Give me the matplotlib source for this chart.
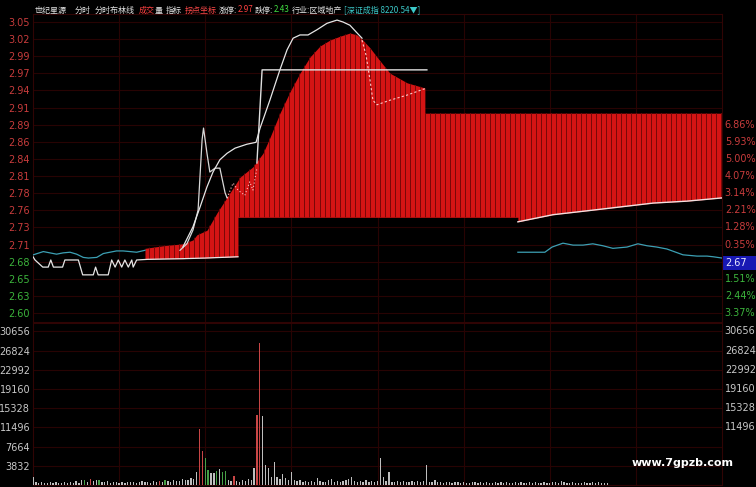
import numpy as np
import matplotlib
matplotlib.use("Agg")
import matplotlib.pyplot as plt
from matplotlib.patches import Rectangle

plt.rcParams['font.family'] = ['Noto Sans CJK SC', 'DejaVu Sans']

# ---------------- data ----------------
price_ticks = [3.05, 3.0235, 2.9971, 2.9706, 2.9441, 2.9176, 2.8912, 2.8647, 2.8382,
               2.8118, 2.7853, 2.7588, 2.7324, 2.7059, 2.6794, 2.6529, 2.6265, 2.60]
price_labels = ["3.05", "3.02", "2.99", "2.97", "2.94", "2.91", "2.89", "2.86", "2.84",
                "2.81", "2.78", "2.76", "2.73", "2.71", "2.68", "2.65", "2.63", "2.60"]
right_labels = ["6.86%", "5.93%", "5.00%", "4.07%", "3.14%", "2.21%", "1.28%", "0.35%",
                "2.67", "1.51%", "2.44%", "3.37%"]
vol_ticks = [30656, 26824, 22992, 19160, 15328, 11496, 7664, 3832]
vol_right_ticks = [30656, 26824, 22992, 19160, 15328, 11496]

# red area (minute, top price, bottom price)
red_x = [39.0, 45.3, 52.2, 55.7, 57.1, 60.6, 64.1, 67.6, 71.1, 71.4, 71.4, 72.1, 76.6, 80.1,
         82.5, 86.0, 89.5, 93.0, 96.5, 100.0, 103.4, 106.9, 110.4, 112.9, 114.9, 117.4,
         119.8, 124.3, 130.3, 136.5, 136.5, 168.9, 168.9, 181.1, 192.9, 204.5, 216.0, 227.8, 240.0]
red_top = [2.700, 2.704, 2.707, 2.713, 2.721, 2.728, 2.755, 2.779, 2.803, 2.805, 2.805, 2.810,
           2.826, 2.847, 2.871, 2.909, 2.942, 2.971, 2.996, 3.013, 3.022, 3.028, 3.033, 3.030,
           3.022, 3.010, 2.996, 2.971, 2.956, 2.948, 2.909, 2.909, 2.909, 2.909, 2.909, 2.909,
           2.909, 2.909, 2.909]
red_bot = ([2.683, 2.684, 2.684, 2.685, 2.685, 2.685, 2.686, 2.686, 2.687, 2.687]
           + [2.748] * 22
           + [2.741, 2.752, 2.758, 2.764, 2.770, 2.773, 2.778])

# left white price line
wl_x = [0, 0.7, 3.4, 5.3, 6.2, 7.1, 10.3, 11.1, 15.8, 17.3, 21.0, 21.8, 22.7, 26.2, 27.4, 28.6,
        29.7, 30.9, 32.0, 33.2, 34.4, 34.9, 36.1, 40.0, 52.0, 60.0, 71.4]
wl_p = [2.687, 2.682, 2.671, 2.671, 2.682, 2.671, 2.671, 2.682, 2.682, 2.659, 2.659, 2.671,
        2.659, 2.659, 2.682, 2.671, 2.682, 2.671, 2.682, 2.671, 2.682, 2.671, 2.682, 2.683,
        2.684, 2.685, 2.687]

# left cyan average line
cl_x = [0.1, 3.6, 5.9, 8.2, 10.5, 12.9, 15.2, 17.5, 19.3, 22.2, 24.5, 26.8, 29.1, 31.4, 33.8, 36.1, 39.0]
cl_p = [2.690, 2.695, 2.693, 2.691, 2.693, 2.694, 2.691, 2.686, 2.685, 2.686, 2.692, 2.694,
        2.696, 2.696, 2.695, 2.694, 2.697]

# right cyan line
cr_x = [168.9, 178.3, 180.8, 184.6, 188.1, 191.6, 195.0, 198.5, 202.0, 206.9, 210.7, 213.9,
        217.3, 220.8, 226.4, 231.3, 234.8, 236.9, 240.0]
cr_p = [2.694, 2.694, 2.702, 2.708, 2.705, 2.705, 2.707, 2.704, 2.700, 2.702, 2.707, 2.704,
        2.702, 2.699, 2.690, 2.688, 2.688, 2.687, 2.685]

# right white bottom line
wr_x = [168.9, 181.1, 192.9, 204.5, 216.0, 227.8, 240.0]
wr_p = [2.741, 2.752, 2.758, 2.764, 2.770, 2.773, 2.778]

# spiky white line
sp_x = [51.2, 53.6, 55.7, 57.5, 58.9, 59.4, 60.6, 61.6, 63.4, 65.1, 66.9, 67.6]
sp_p = [2.697, 2.707, 2.728, 2.759, 2.868, 2.886, 2.847, 2.818, 2.824, 2.824, 2.786, 2.778]

# smooth white arc
arc_x = [52.2, 55.7, 58.2, 60.6, 62.7, 65.1, 67.6, 70.4, 74.5, 77.7, 79.1, 82.5, 86.0, 88.5,
         90.6, 93.0, 95.8, 98.9, 102.4, 105.9, 108.0, 110.4, 112.9, 114.6]
arc_p = [2.702, 2.733, 2.764, 2.795, 2.818, 2.837, 2.847, 2.855, 2.861, 2.864, 2.886, 2.929,
         2.976, 3.007, 3.025, 3.030, 3.030, 3.038, 3.048, 3.053, 3.050, 3.045, 3.033, 3.025]

# step line
st_x = [78.0, 79.8, 137.2]
st_p = [2.832, 2.976, 2.976]

# pink dotted lines
pd1_x = [67.6, 69.7, 71.4, 73.8, 75.5, 76.6, 78.0]
pd1_p = [2.778, 2.801, 2.790, 2.782, 2.803, 2.790, 2.824]
pd2_x = [114.6, 116.0, 117.4, 118.4, 119.8, 124.3, 130.3, 137.2]
pd2_p = [3.022, 2.999, 2.960, 2.929, 2.922, 2.929, 2.937, 2.948]

# volume per minute
volume = [1650, 500, 400, 600, 350, 450, 500, 300, 550, 400,
          450, 600, 350, 500, 400, 700, 450, 900, 1000, 600,
          1100, 700, 900, 1000, 650, 500, 800, 450, 600, 500,
          400, 550, 450, 600, 500, 650, 400, 550, 700, 500,
          600, 450, 700, 550, 800, 600, 900, 700, 650, 1000,
          800, 700, 1100, 900, 1000, 1400, 1200, 2650, 11200, 6850,
          5400, 3000, 2300, 2450, 2860, 3130, 2650, 2860, 1000, 700,
          1860, 800, 600, 900, 700, 1200, 1000, 3330, 13970, 28280,
          13770, 4000, 3330, 1600, 4660, 1560, 1200, 2200, 1330, 900,
          2660, 1000, 800, 900, 600, 700, 500, 800, 600, 1330,
          700, 500, 600, 900, 1260, 600, 800, 500, 700, 900,
          1200, 1500, 700, 500, 800, 600, 900, 500, 700, 600,
          800, 5330, 1500, 700, 2660, 600, 500, 800, 600, 700,
          500, 600, 700, 500, 800, 600, 700, 4000, 600, 500,
          900, 600, 500, 400, 600, 500, 450, 600, 500, 400,
          500, 450, 400, 550, 500, 400, 600, 450, 500, 400,
          450, 500, 400, 600, 450, 500, 400, 450, 550, 400,
          500, 400, 450, 500, 400, 600, 450, 400, 500, 450,
          400, 500, 600, 450, 700, 500, 400, 450, 500, 400,
          450, 400, 500, 450, 400, 500, 450, 600, 400, 450,
          400]
vol_minutes = list(range(len(volume)))
red_bars = [58, 59, 70, 78, 79, 20, 44]
green_bars = [60, 61, 64, 66, 67, 18, 23, 46]

# ---------------- figure ----------------
W, H = 756, 487
fig = plt.figure(figsize=(W / 100, H / 100), dpi=100, facecolor='black')

def px_axes(x0, y0, x1, y1):
    return fig.add_axes([x0 / W, 1 - y1 / H, (x1 - x0) / W, (y1 - y0) / H])

ax = px_axes(33, 14, 722, 322)
axv = px_axes(33, 323, 722, 485)
GRID = '#280303'
for a in (ax, axv):
    a.set_facecolor('black')
    a.set_xlim(0, 240)
    for s in a.spines.values():
        s.set_color('#300404')
        s.set_linewidth(0.8)
    a.set_xticks([])
    a.tick_params(axis='y', length=0, pad=2, labelsize=7)
    for m in [30, 60, 90, 120, 150, 180, 210]:
        a.axvline(m, color=GRID, lw=0.8, zorder=0)

ax.set_ylim(2.5861, 3.0624)
axv.set_ylim(0, 32335)

tick_font = ['Liberation Sans Narrow', 'DejaVu Sans']
ax.set_yticks(price_ticks)
ax.set_yticklabels(price_labels, family=tick_font)
for lab, v in zip(ax.get_yticklabels(), price_ticks):
    lab.set_color('#c83c3c' if v > 2.69 else '#3cb43c')
for v in price_ticks:
    ax.axhline(v, color=GRID, lw=0.8, zorder=0)

ytr = ax.get_yaxis_transform()
for v, t in zip(price_ticks[6:], right_labels):
    if t == "2.67":
        ax.add_patch(Rectangle((1.0, 2.6665), 34 / 689, 0.0216, transform=ytr,
                               clip_on=False, facecolor='#1818b4', edgecolor='none'))
        ax.text(1.004, 2.6773, t, transform=ytr, color='#e8e8ff', fontsize=7,
                family=tick_font, va='center', ha='left')
    else:
        col = '#c83c3c' if v > 2.69 else '#3cb43c'
        ax.text(1.004, v, t, transform=ytr, color=col, fontsize=7,
                family=tick_font, va='center', ha='left')

axv.set_yticks(vol_ticks)
axv.set_yticklabels([str(v) for v in vol_ticks], family=tick_font, color='#c8c8c8')
for v in vol_ticks:
    axv.axhline(v, color=GRID, lw=0.8, zorder=0)
vtr = axv.get_yaxis_transform()
for v in vol_right_ticks:
    axv.text(1.004, v, str(v), transform=vtr, color='#c8c8c8', fontsize=7,
             family=tick_font, va='center', ha='left')

# red area with bar separators
poly = ax.fill_between(red_x, red_bot, red_top, color='#d41414', lw=0, zorder=2)
seps = ax.vlines(np.arange(40.3, 240, 1.75), 2.58, 3.07, color='#780808', lw=0.7, zorder=3)
seps.set_clip_path(poly.get_paths()[0], poly.get_transform())

# lines
ax.plot(cl_x, cl_p, color='#3ca0b4', lw=0.9, zorder=4)
ax.plot(cr_x, cr_p, color='#3ca0b4', lw=0.9, zorder=4)
ax.plot(wl_x, wl_p, color='#e6e6e6', lw=0.9, zorder=5)
ax.plot(wr_x, wr_p, color='#f0e0e0', lw=1.0, zorder=5)
ax.plot(sp_x, sp_p, color='#d8d8d8', lw=0.9, zorder=5)
ax.plot(arc_x, arc_p, color='#e6e6e6', lw=0.9, zorder=5)
ax.plot(st_x, st_p, color='#e0e0e0', lw=1.0, zorder=5)
ax.plot(pd1_x, pd1_p, color='#ffc0c0', lw=0.8, ls=(0, (1, 2)), zorder=5)
ax.plot(pd2_x, pd2_p, color='#ffc8c8', lw=0.8, ls=(0, (2, 2)), zorder=5)

# volume bars
cols = []
for m in vol_minutes:
    if m in red_bars:
        cols.append('#c84646')
    elif m in green_bars:
        cols.append('#46a046')
    else:
        cols.append('#bebebe')
axv.bar(vol_minutes, volume, width=0.45, color=cols, lw=0, zorder=3)

# header
fig.canvas.draw()
renderer = fig.canvas.get_renderer()
WH = '#e4e4e4'
pieces = [("世纪星源", WH, 8), ("分时", WH, 4), ("分时布林线", WH, 4), ("成交", '#ff4040', 0),
          ("量", WH, 3), ("指标", WH, 3), ("拐点坐标", '#ff4848', 2), ("涨停:", WH, 0),
          ("2.97", '#ff4040', 2), ("跌停:", WH, 0), ("2.43", '#40dc40', 2),
          ("行业:区域地产", WH, 2), ("[深证成指 8220.54▼]", '#3cc8c8', 0)]
x = 35
for txt, col, gap in pieces:
    t = fig.text(x / W, 1 - 10 / H, txt, color=col, fontsize=5.8, ha='left', va='center')
    bb = t.get_window_extent(renderer)
    x = bb.x1 + gap

fig.text(683 / W, 1 - 463 / H, "www.7gpzb.com", color='white', fontsize=8,
         fontweight='bold', ha='center', va='center', family='DejaVu Sans')

fig.savefig("out.png", dpi=100, facecolor='black')
